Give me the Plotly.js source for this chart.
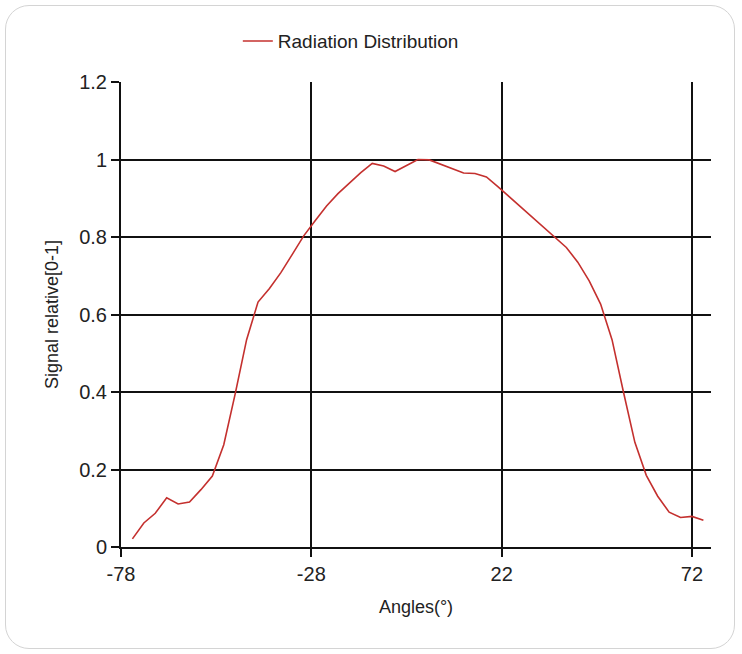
<!DOCTYPE html>
<html>
<head>
<meta charset="utf-8">
<script src="https://cdn.plot.ly/plotly-3.0.1.min.js"></script>
<style>
html,body{margin:0;padding:0;background:#fff;}
#frame{position:absolute;left:5px;top:5px;width:730px;height:644px;border:1.5px solid #d4d4d4;border-radius:24px;box-sizing:border-box;}
#chart{position:absolute;left:0;top:0;width:742px;height:654px;}
</style>
</head>
<body>
<div id="frame"></div>
<div id="chart"></div>
<script>
const seriesName = "Radiation Distribution";
const angles = [-75,-72,-69,-66,-63,-60,-57,-54,-51,-48,-45,-42,-39,-36,-33,-30,-27,-24,-21,-18,-15,-12,-9,-6,-3,0,3,6,9,12,15,18,21,24,27,30,33,36,39,42,45,48,51,54,57,60,63,66,69,72,75];
const signal = [0.021,0.062,0.087,0.127,0.111,0.116,0.148,0.183,0.264,0.395,0.535,0.632,0.667,0.708,0.755,0.803,0.842,0.880,0.912,0.940,0.966,0.990,0.983,0.969,0.985,1.000,0.999,0.988,0.976,0.965,0.964,0.955,0.930,0.904,0.877,0.852,0.827,0.799,0.773,0.735,0.687,0.627,0.535,0.400,0.270,0.185,0.131,0.090,0.076,0.079,0.069];
const xTicks = [-78,-28,22,72];
const yTicks = [0,0.2,0.4,0.6,0.8,1,1.2];
const yTickLabels = ["0","0.2","0.4","0.6","0.8","1","1.2"];

const trace = {
  x: angles, y: signal, type: 'scatter', mode: 'lines', name: seriesName,
  line: {color: '#c4302e', width: 1.6}
};
const layout = {
  width: 742, height: 654,
  margin: {l: 121, r: 31, t: 82, b: 107},
  paper_bgcolor: 'rgba(0,0,0,0)', plot_bgcolor: '#ffffff',
  font: {family: 'Arial, "Liberation Sans", sans-serif', color: '#222'},
  showlegend: true,
  legend: {orientation: 'h', x: 0.198, xanchor: 'left', y: 1.088, yanchor: 'middle',
           font: {size: 19, color: '#222'}, bgcolor: 'rgba(0,0,0,0)'},
  xaxis: {
    range: [-78, 77], tickmode: 'array', tickvals: xTicks, ticktext: xTicks.map(String),
    showgrid: true, gridcolor: '#111', gridwidth: 2, zeroline: false,
    showline: true, linecolor: '#111', linewidth: 2,
    ticks: 'outside', ticklen: 8, tickwidth: 2, tickcolor: '#111',
    tickfont: {size: 20, color: '#222'},
    title: {text: 'Angles(°)', font: {size: 18, color: '#222'}, standoff: 16}
  },
  yaxis: {
    range: [0, 1.2], tickmode: 'array', tickvals: yTicks, ticktext: yTickLabels,
    showgrid: true, gridcolor: '#111', gridwidth: 2, zeroline: false,
    showline: true, linecolor: '#111', linewidth: 2,
    ticks: 'outside', ticklen: 8, tickwidth: 2, tickcolor: '#111',
    tickfont: {size: 20, color: '#222'},
    title: {text: 'Signal relative[0-1]', font: {size: 18, color: '#222'}, standoff: 16}
  }
};
Plotly.newPlot('chart', [trace], layout, {displayModeBar: false, staticPlot: true});
</script>
</body>
</html>
